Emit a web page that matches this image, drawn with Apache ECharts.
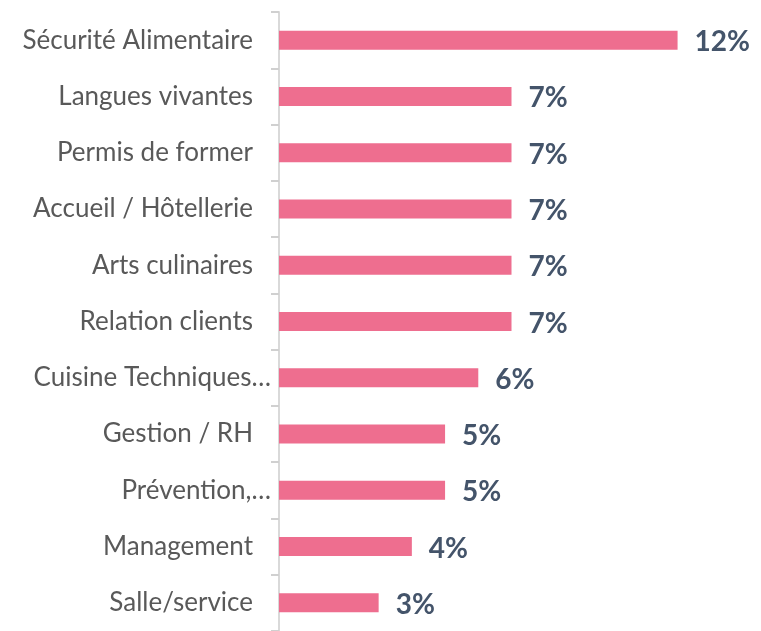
<!DOCTYPE html>
<html>
<head>
<meta charset="utf-8">
<script src="https://cdn.jsdelivr.net/npm/echarts@6/dist/echarts.min.js"></script>
<style>
  html, body { margin: 0; padding: 0; background: #fff; }
  #chart { width: 761px; height: 631px; }
</style>
</head>
<body>
<div id="chart"></div>
<script>
// catégories et valeurs (%)
var categories = [
  "Sécurité Alimentaire",
  "Langues vivantes",
  "Permis de former",
  "Accueil / Hôtellerie",
  "Arts culinaires",
  "Relation clients",
  "Cuisine Techniques…",
  "Gestion / RH",
  "Prévention,…",
  "Management",
  "Salle/service"
];
var values = [12, 7, 7, 7, 7, 7, 6, 5, 5, 4, 3];

var myChart = echarts.init(document.getElementById("chart"));

var option = {
  animation: false,
  grid: {
    left: 279,
    top: 12,
    width: 465,
    height: 623,
    containLabel: false
  },
  xAxis: {
    type: "value",
    min: 0,
    max: 14,
    show: false
  },
  yAxis: {
    type: "category",
    data: categories,
    inverse: true,
    axisLine: {
      lineStyle: { color: "#D9D9D9", width: 2 }
    },
    axisTick: {
      show: true,
      length: 8,
      lineStyle: { color: "#D0D0D0", width: 2 }
    },
    axisLabel: {
      margin: 8,
      formatter: function (v) {
        // les libellés tronqués vont plus près de l'axe
        if (v.slice(-1) === "…") return "{e|" + v + "}";
        return "{n|" + v + "}";
      },
      rich: {
        n: { fontFamily: "Lato", fontSize: 26, color: "#595959", padding: [0, 18, 0, 0] },
        e: { fontFamily: "Lato", fontSize: 26, color: "#595959" }
      }
    }
  },
  series: [
    {
      type: "bar",
      data: values,
      barWidth: 19,
      itemStyle: { color: "#EE6E8F" },
      label: {
        show: true,
        position: "right",
        distance: 17,
        offset: [0, 2],
        formatter: "{c}%",
        fontFamily: "Lato",
        fontWeight: "bold",
        fontSize: 28,
        color: "#44546A"
      }
    }
  ]
};

myChart.setOption(option);
</script>
</body>
</html>
